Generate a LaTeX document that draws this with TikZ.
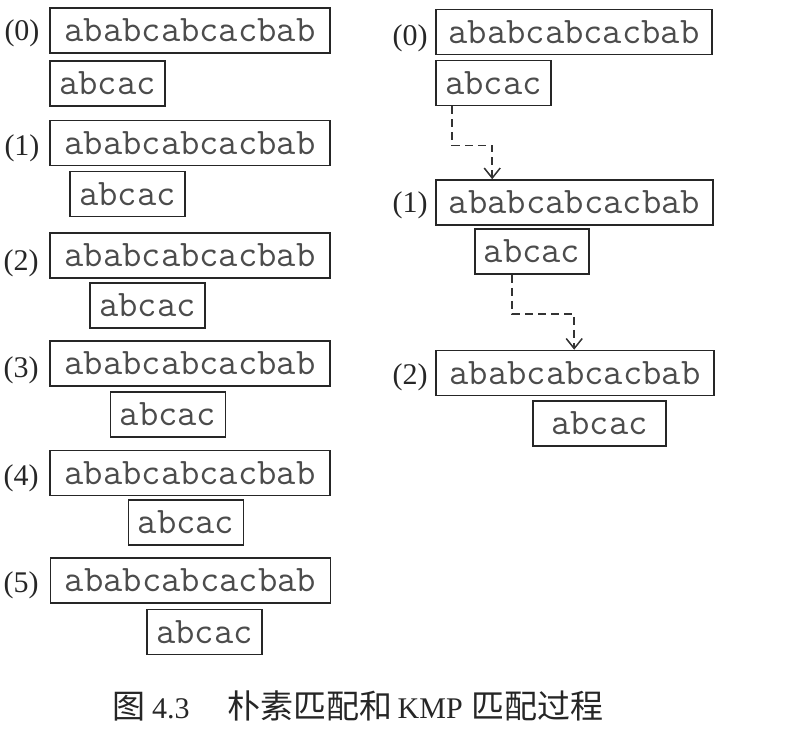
\documentclass[tikz,border=0pt]{standalone}
\usepackage{fontspec}
\setmainfont{Liberation Serif}
\newfontfamily\cjk{Noto Sans CJK SC}
\usetikzlibrary{arrows.meta}
\tikzset{
  strbox/.style={draw=black!85, line width=1.6pt, rectangle, inner sep=0pt,
    minimum width=280pt, minimum height=45pt, font=\fontsize{37.5}{40}\selectfont\ttfamily, text=black!70},
  patbox/.style={strbox, minimum width=115pt},
  steplabel/.style={inner sep=0pt, font=\fontsize{30}{33}\selectfont, text=black!85},
  kmparrow/.style={draw=black!80, line width=1.6pt, dash pattern=on 8pt off 5pt,
    -{Straight Barb[length=10pt,width=16pt,line width=1.5pt]}},
}
\begin{document}
\begin{tikzpicture}[x=1pt,y=-1pt]
\useasboundingbox (0,0) rectangle (802,750);
% left column: naive matching
\node[strbox] (b0) at (190,30.5) {ababcabcacbab};
\node[patbox] (p0) at (107.5,83.5) {abcac};
\node[steplabel] (l0) at (22,33) {(0)};
\node[strbox] (b1) at (190,143) {ababcabcacbab};
\node[patbox] (p1) at (127.5,194) {abcac};
\node[steplabel] (l1) at (22,148) {(1)};
\node[strbox] (b2) at (190,255.5) {ababcabcacbab};
\node[patbox] (p2) at (147.5,305.5) {abcac};
\node[steplabel] (l2) at (21,263) {(2)};
\node[strbox] (b3) at (190,363.5) {ababcabcacbab};
\node[patbox] (p3) at (168,414.5) {abcac};
\node[steplabel] (l3) at (21,370) {(3)};
\node[strbox] (b4) at (190,473) {ababcabcacbab};
\node[patbox] (p4) at (186,522.5) {abcac};
\node[steplabel] (l4) at (21,478) {(4)};
\node[strbox] (b5) at (190.5,580.5) {ababcabcacbab};
\node[patbox] (p5) at (204.5,632) {abcac};
\node[steplabel] (l5) at (21,585) {(5)};
% right column: KMP matching
\node[strbox, minimum width=276pt] (r0b) at (574,32) {ababcabcacbab};
\node[patbox] (r0p) at (493.5,83) {abcac};
\node[steplabel] (rl0) at (410,38) {(0)};
\node[strbox, minimum width=277pt] (r1b) at (574.5,202.5) {ababcabcacbab};
\node[patbox, minimum width=114pt] (r1p) at (532,251.5) {abcac};
\node[steplabel] (rl1) at (410,205) {(1)};
\node[strbox, minimum width=278pt] (r2b) at (575,373) {ababcabcacbab};
\node[patbox, minimum width=133pt] (r2p) at (599.5,423.5) {abcac\hspace{18pt}};
\node[steplabel] (rl2) at (410,377) {(2)};
% shift arrows
\draw[kmparrow] ([xshift=17pt]r0p.south west) -- ++(0,39) -| ([xshift=57pt]r1b.north west);
\draw[kmparrow] ([xshift=38pt]r1p.south west) -- ++(0,39) -| ([xshift=139pt]r2b.north west);
% caption
\node[inner sep=0pt, anchor=west, font=\fontsize{30}{34}\selectfont, text=black!85] (cap) at (112,706)
  {{\fontsize{33}{36}\selectfont\cjk 图}\hspace{7pt}4.3\hspace{38pt}{\fontsize{33}{36}\selectfont\cjk 朴素匹配和}\hspace{5pt}KMP\hspace{9pt}{\fontsize{33}{36}\selectfont\cjk 匹配过程}};
\end{tikzpicture}
\end{document}
